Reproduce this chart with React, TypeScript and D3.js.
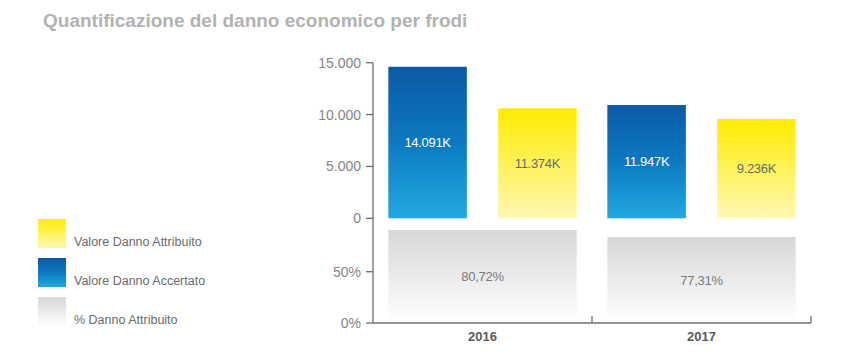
import React from "react";
import * as d3 from "d3";

// categories and values
const years = ["2016", "2017"];
const seriesKeys = ["accertato", "attribuito"];
// bar heights as drawn (the printed labels do not match the drawn heights exactly)
const accertatoValues = [14610, 10920];
const attribuitoValues = [10600, 9570];
const accertatoLabels = ["14.091K", "11.947K"];
const attribuitoLabels = ["11.374K", "9.236K"];
const percentValues = [90.6, 83.8];
const percentLabels = ["80,72%", "77,31%"];
const valueTicks = [0, 5000, 10000, 15000];
const percentTicks = [0, 50];
const legendItems = [
  { label: "Valore Danno Attribuito", grad: "gYellow" },
  { label: "Valore Danno Accertato", grad: "gBlue" },
  { label: "% Danno Attribuito", grad: "gGray" },
];

const W = 849;
const H = 362;
const FONT = "'Liberation Sans', Arial, Helvetica, sans-serif";

const itLocale = d3.formatLocale({
  decimal: ",",
  thousands: ".",
  grouping: [3],
  currency: ["", "€"],
});
const fmt = itLocale.format(",");

export default function App() {
  const x = d3
    .scaleBand()
    .domain(years)
    .range([373, 811])
    .paddingInner(0.14)
    .paddingOuter(0.07);

  const xs = d3
    .scaleBand()
    .domain(seriesKeys)
    .range([0, x.bandwidth()])
    .paddingInner(0.285)
    .paddingOuter(0);

  const y = d3.scaleLinear().domain([0, 15000]).range([218.3, 62.7]);
  const yp = d3.scaleLinear().domain([0, 50]).range([323, 271.7]);

  const axisColor = "#6e6e6e";
  const tickText = "#858585";

  const bars = years.flatMap((yr, i) => [
    {
      key: "accertato",
      yr,
      v: accertatoValues[i],
      label: accertatoLabels[i],
      grad: "url(#gBlue)",
      color: "#ffffff",
    },
    {
      key: "attribuito",
      yr,
      v: attribuitoValues[i],
      label: attribuitoLabels[i],
      grad: "url(#gYellow)",
      color: "#6a6a6a",
    },
  ]);

  return (
    <svg
      width={W}
      height={H}
      style={{ position: "absolute", left: 0, top: 0, background: "#fff" }}
      fontFamily={FONT}
    >
      <defs>
        <linearGradient id="gBlue" x1="0" y1="0" x2="0" y2="1">
          <stop offset="0%" stopColor="#0b5aa6" />
          <stop offset="50%" stopColor="#0b79c1" />
          <stop offset="100%" stopColor="#22a8e0" />
        </linearGradient>
        <linearGradient id="gYellow" x1="0" y1="0" x2="0" y2="1">
          <stop offset="0%" stopColor="#ffec00" />
          <stop offset="100%" stopColor="#fff8b4" />
        </linearGradient>
        <linearGradient id="gGray" x1="0" y1="0" x2="0" y2="1">
          <stop offset="0%" stopColor="#d7d7d9" />
          <stop offset="100%" stopColor="#ffffff" />
        </linearGradient>
      </defs>

      <text x={43} y={26.5} fontSize={19} fontWeight="bold" fill="#b2b2b2">
        Quantificazione del danno economico per frodi
      </text>

      {/* legend */}
      {legendItems.map((d, i) => (
        <g key={d.label} transform={`translate(38,${219 + i * 39})`}>
          <rect width={28} height={29} fill={`url(#${d.grad})`} />
          <text x={36} y={23} fontSize={12.5} fill="#6a6a6a" dominantBaseline="central">
            {d.label}
          </text>
        </g>
      ))}

      {/* top bars */}
      {bars.map((b) => {
        const bx = (x(b.yr) as number) + (xs(b.key) as number);
        const top = y(b.v);
        return (
          <g key={b.yr + b.key}>
            <rect x={bx} y={top} width={xs.bandwidth()} height={y(0) - top} fill={b.grad} />
            <text
              x={bx + xs.bandwidth() / 2}
              y={(top + y(0)) / 2}
              fontSize={13}
              fill={b.color}
              textAnchor="middle"
              dominantBaseline="central"
              letterSpacing={-0.3}
            >
              {b.label}
            </text>
          </g>
        );
      })}

      {/* percentage bars */}
      {years.map((yr, i) => {
        const top = yp(percentValues[i]);
        return (
          <g key={"p" + yr}>
            <rect
              x={x(yr)}
              y={top}
              width={x.bandwidth()}
              height={yp(0) - top}
              fill="url(#gGray)"
            />
            <text
              x={(x(yr) as number) + x.bandwidth() / 2}
              y={(top + yp(0)) / 2}
              fontSize={13}
              fill="#7a7a7a"
              textAnchor="middle"
              dominantBaseline="central"
              letterSpacing={-0.3}
            >
              {percentLabels[i]}
            </text>
          </g>
        );
      })}

      {/* vertical axis */}
      <line x1={373} x2={373} y1={y(15000)} y2={yp(0)} stroke={axisColor} strokeWidth={1.3} />
      {valueTicks.map((t) => (
        <g key={"vt" + t}>
          <line x1={366} x2={373} y1={y(t)} y2={y(t)} stroke={axisColor} strokeWidth={1.3} />
          <text
            x={361}
            y={y(t)}
            fontSize={14}
            fill={tickText}
            textAnchor="end"
            dominantBaseline="central"
          >
            {fmt(t)}
          </text>
        </g>
      ))}
      {percentTicks.map((t) => (
        <g key={"pt" + t}>
          <line x1={366} x2={373} y1={yp(t)} y2={yp(t)} stroke={axisColor} strokeWidth={1.3} />
          <text
            x={361}
            y={yp(t)}
            fontSize={14}
            fill={tickText}
            textAnchor="end"
            dominantBaseline="central"
          >
            {t}%
          </text>
        </g>
      ))}

      {/* bottom axis */}
      <line x1={373} x2={811} y1={yp(0)} y2={yp(0)} stroke={axisColor} strokeWidth={1.3} />
      {years.map((yr) => {
        const edge = (x(yr) as number) + x.bandwidth() + (x.step() - x.bandwidth()) / 2;
        return (
          <line
            key={"bt" + yr}
            x1={Math.min(edge, 811)}
            x2={Math.min(edge, 811)}
            y1={yp(0)}
            y2={yp(0) - 7}
            stroke={axisColor}
            strokeWidth={1.3}
          />
        );
      })}
      {years.map((yr) => (
        <text
          key={"yl" + yr}
          x={(x(yr) as number) + x.bandwidth() / 2}
          y={336}
          fontSize={13}
          fontWeight="bold"
          fill="#5a5a5a"
          textAnchor="middle"
          dominantBaseline="central"
        >
          {yr}
        </text>
      ))}
    </svg>
  );
}
